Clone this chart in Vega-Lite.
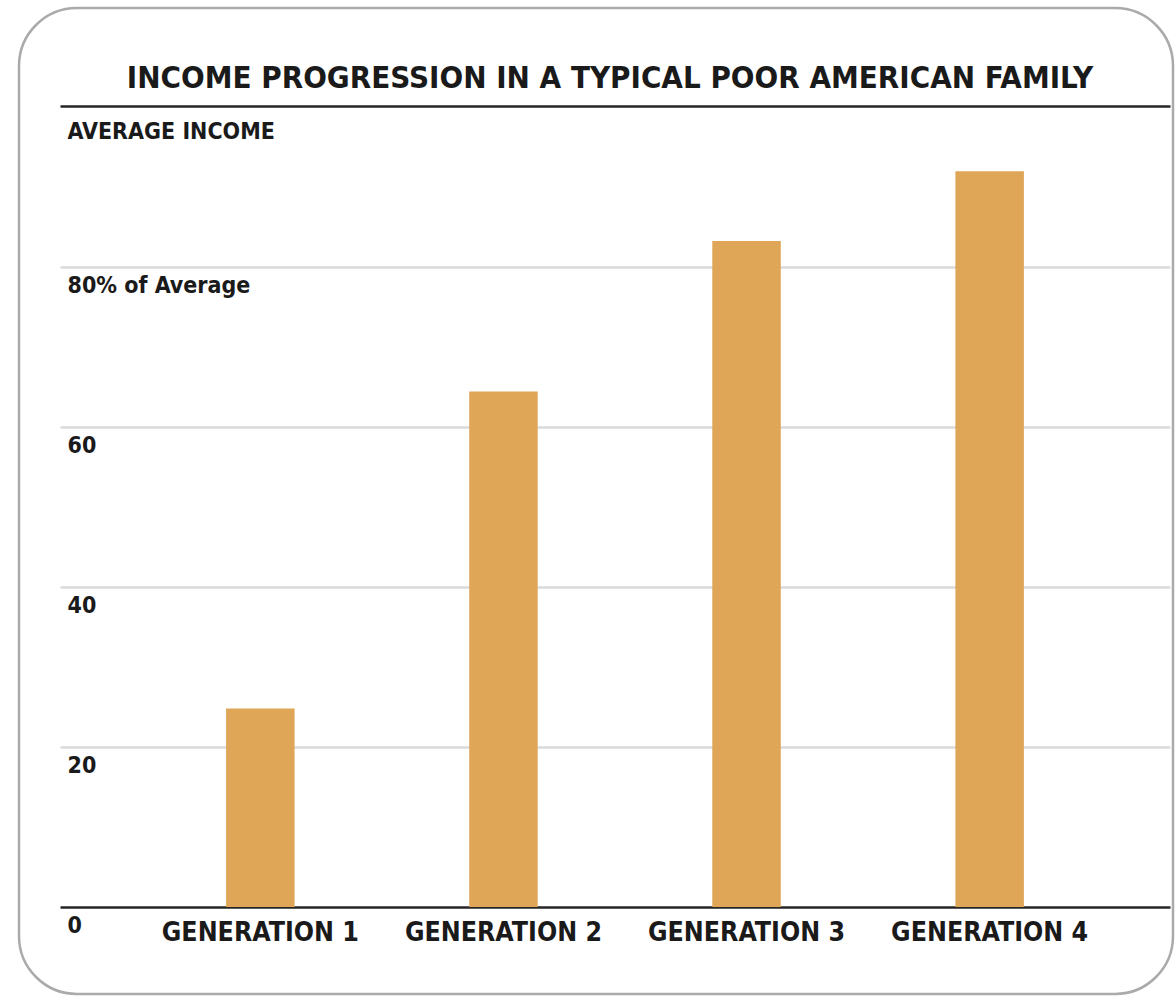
{
  "$schema": "https://vega.github.io/schema/vega-lite/v6.json",
  "autosize": "none",
  "width": 1154,
  "height": 986,
  "padding": {"left": 19, "top": 8, "right": 3, "bottom": 2},
  "background": "#ffffff",
  "title": {
    "text": "INCOME PROGRESSION IN A TYPICAL POOR AMERICAN FAMILY",
    "font": "DejaVu Sans Condensed, Liberation Sans",
    "fontSize": 31,
    "fontWeight": "bold",
    "color": "#1a1a1a",
    "anchor": "middle",
    "frame": "group",
    "baseline": "alphabetic",
    "offset": -111,
    "dx": 14
  },
  "data": {
    "values": [
      {"generation": "GENERATION 1", "income": 24.8},
      {"generation": "GENERATION 2", "income": 64.4},
      {"generation": "GENERATION 3", "income": 83.2},
      {"generation": "GENERATION 4", "income": 91.9}
    ]
  },
  "mark": {"type": "bar", "color": "#dfa657"},
  "encoding": {
    "x": {
      "field": "generation",
      "type": "nominal",
      "sort": null,
      "title": null,
      "scale": {"range": [41, 1151], "paddingInner": 0.7182, "paddingOuter": 0.6421, "align": 0.532},
      "axis": {
        "orient": "bottom",
        "offset": -87,
        "domain": false,
        "ticks": false,
        "tickSize": 0,
        "grid": false,
        "labelAngle": 0,
        "labelPadding": 33,
        "labelLimit": 0,
        "labelBaseline": "alphabetic",
        "labelFont": "DejaVu Sans Condensed, Liberation Sans",
        "labelFontSize": 26.5,
        "labelFontWeight": "bold",
        "labelColor": "#1a1a1a"
      }
    },
    "y": {
      "field": "income",
      "type": "quantitative",
      "title": null,
      "scale": {"domain": [-10.87, 112.3], "nice": false, "zero": false},
      "axis": {
        "orient": "left",
        "values": [0, 20, 40, 60, 80, 100],
        "domain": false,
        "ticks": false,
        "tickSize": 0,
        "grid": true,
        "gridColor": {"condition": {"test": "datum.value == 0 || datum.value == 100", "value": "#262626"}, "value": "#dadada"},
        "gridWidth": 2.5,
        "labelExpr": "datum.value == 100 ? 'AVERAGE INCOME' : datum.value == 80 ? '80% of Average' : datum.label",
        "labelAlign": "left",
        "labelBaseline": "alphabetic",
        "labelPadding": -48,
        "labelLimit": 0,
        "labelOffset": {"condition": {"test": "datum.value == 100", "value": 32}, "value": 26},
        "labelFlush": false,
        "labelOverlap": false,
        "labelBound": false,
        "labelFont": "DejaVu Sans Condensed, Liberation Sans",
        "labelFontSize": 23,
        "labelFontWeight": "bold",
        "labelColor": "#1a1a1a"
      }
    }
  },
  "config": {
    "view": {"stroke": "#aaaaaa", "strokeWidth": 2.5, "cornerRadius": 58, "fill": "#ffffff"}
  }
}
